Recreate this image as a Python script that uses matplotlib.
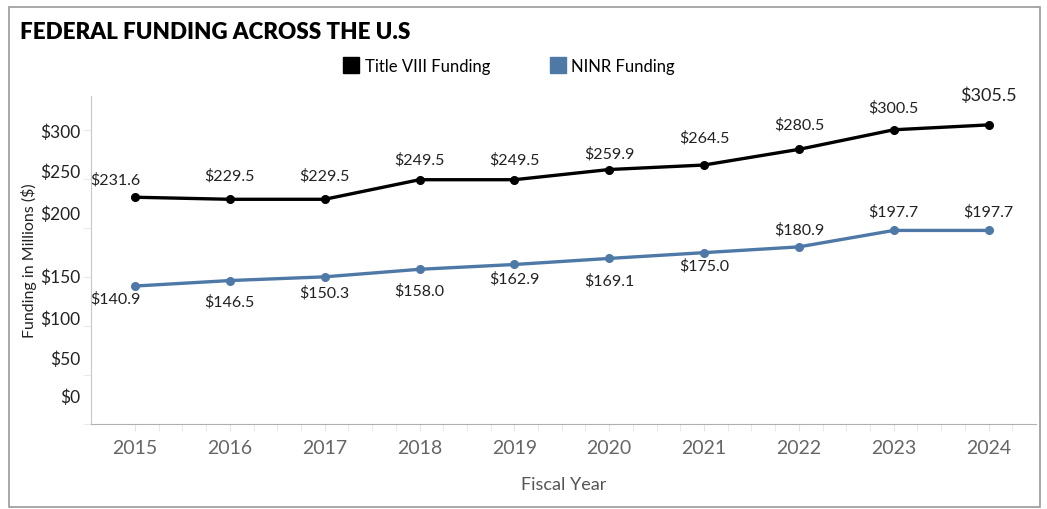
import matplotlib.pyplot as plt
from matplotlib.patches import Rectangle
from matplotlib.lines import Line2D

plt.rcParams['font.family'] = ['Lato', 'DejaVu Sans']

years = [2015, 2016, 2017, 2018, 2019, 2020, 2021, 2022, 2023, 2024]
title8 = [231.6, 229.5, 229.5, 249.5, 249.5, 259.9, 264.5, 280.5, 300.5, 305.5]
ninr = [140.9, 146.5, 150.3, 158.0, 162.9, 169.1, 175.0, 180.9, 197.7, 197.7]

# y labels in the source sit a bit off their grid ticks
ytick_labels = ['$300', '$250', '$200', '$150', '$100', '$50', '$0']
ytick_label_pos = [300.4, 259.5, 216.6, 152.2, 109.3, 68.5, 29.6]
ygrid = [0, 50, 100, 150, 200, 250, 300]

# label offsets in points (dx, dy)
t8_off = [(-14, 13), (0, 17), (0, 17), (0, 15), (0, 15), (0, 12), (0, 20), (0, 18), (0, 16), (0, 22)]
ninr_off = [(-14, -9), (0, -15), (0, -11), (0, -15), (0, -10), (0, -16), (0, -9), (0, 13), (0, 14), (0, 14)]

BLUE = '#4e79a7'

fig = plt.figure(figsize=(10.47, 5.10), dpi=100)
ax = fig.add_axes([0.0869, 0.1667, 0.9026, 0.6431])

ax.plot(years, title8, color='black', lw=2.4, marker='o', ms=5.5, zorder=3)
ax.plot(years, ninr, color=BLUE, lw=2.4, marker='o', ms=5.5, zorder=3)

for i in range(len(years)):
    fs = 13 if i == len(years) - 1 else 11.5
    ax.annotate('${0:.1f}'.format(title8[i]), xy=(years[i], title8[i]),
                xytext=t8_off[i], textcoords='offset points',
                ha='center', va='center', fontsize=fs, color='#222')
    ax.annotate('${0:.1f}'.format(ninr[i]), xy=(years[i], ninr[i]),
                xytext=ninr_off[i], textcoords='offset points',
                ha='center', va='center', fontsize=11.5, color='#222')

ax.set_xticks(years)
ax.set_xticks([y + q for y in years[:-1] for q in (0.25, 0.5, 0.75)] + [2024.25], minor=True)
ax.set_yticks(ytick_label_pos)
ax.set_yticklabels(ytick_labels)
ax.set_yticks(ygrid, minor=True)
ax.set_xlim(2014.536, 2024.5)
ax.set_ylim(0, 335)

ax.tick_params(axis='x', which='major', length=5, color='#e4e4e4', labelsize=14,
               labelcolor='#666666', pad=6)
ax.tick_params(axis='x', which='minor', length=5, color='#e4e4e4')
ax.tick_params(axis='y', which='major', length=0, labelsize=12.5, labelcolor='#222', pad=7.5)
ax.tick_params(axis='y', which='minor', length=6, color='#e4e4e4')

for s in ['top', 'right']:
    ax.spines[s].set_visible(False)
ax.spines['left'].set_color('#c8c8c8')
ax.spines['bottom'].set_color('#b0b0b0')

ax.set_xlabel('Fiscal Year', fontsize=13, color='#555555', labelpad=14)
ax.set_ylabel('Funding in Millions ($)', fontsize=11.5, color='#222')
ax.yaxis.set_label_coords(-0.057, 0.5)

fig.text(0.019, 0.937, 'FEDERAL FUNDING ACROSS THE U.S', fontsize=16.1,
         fontweight='heavy', color='black', va='center', ha='left')

handles = [Line2D([], [], marker='s', ls='', color='black', ms=12),
           Line2D([], [], marker='s', ls='', color=BLUE, ms=12)]
fig.legend(handles, ['Title VIII Funding', 'NINR Funding'], loc='center',
           bbox_to_anchor=(0.486, 0.868), ncol=2, frameon=False, fontsize=12,
           handletextpad=0.3, columnspacing=3.55, handlelength=1.0)

fig.patches.append(Rectangle((0.0086, 0.004), 0.9847, 0.98, transform=fig.transFigure,
                             fill=False, edgecolor='#9a9a9a', lw=1.2))

fig.savefig('out.png', dpi=100)
